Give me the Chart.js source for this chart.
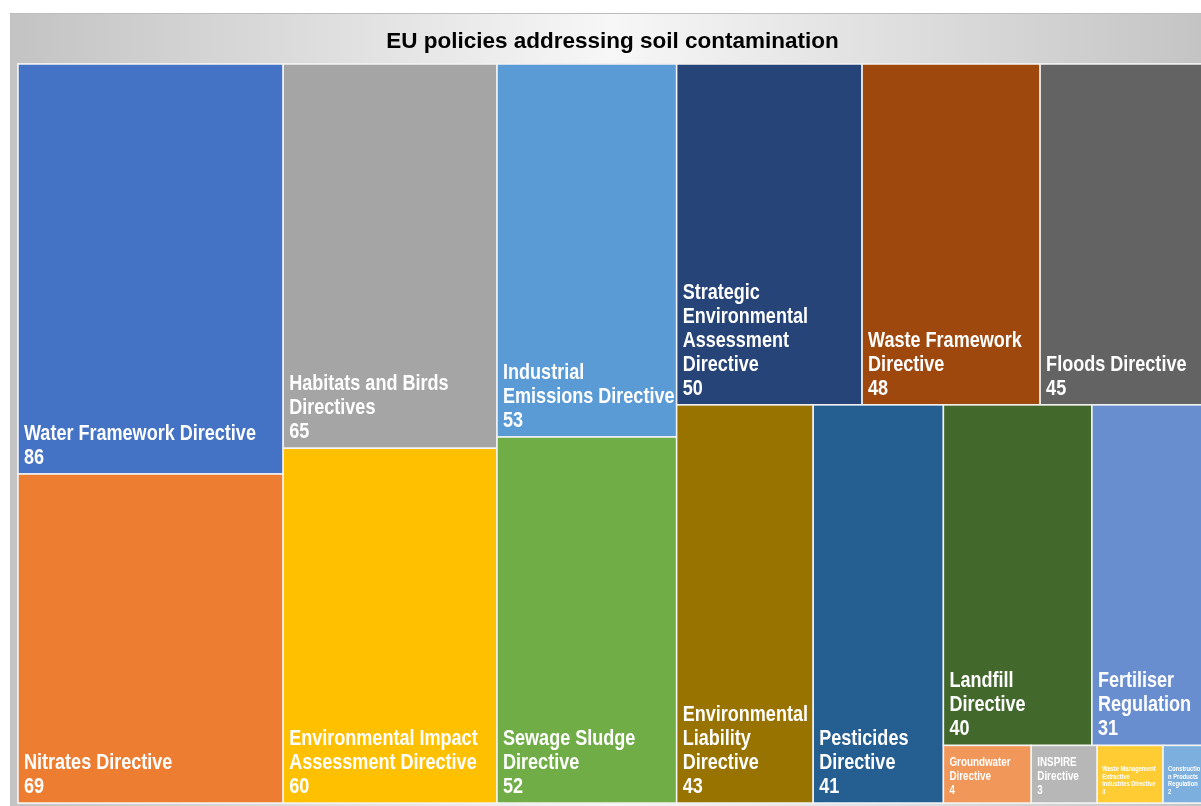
<!DOCTYPE html>
<html>
<head>
<meta charset="utf-8">
<title>EU policies addressing soil contamination</title>
<script src="https://cdn.jsdelivr.net/npm/chart.js@4.4.1/dist/chart.umd.min.js"></script>
<style>
  body { margin: 0; overflow: hidden; background: #fff; }
  #wrap { width: 1216px; height: 806px; }
</style>
</head>
<body>
<div id="wrap"><canvas id="myChart"></canvas></div>
<script>
var policies = [
    'Water Framework Directive',
    'Nitrates Directive',
    'Habitats and Birds Directives',
    'Environmental Impact Assessment Directive',
    'Industrial Emissions Directive',
    'Sewage Sludge Directive',
    'Strategic Environmental Assessment Directive',
    'Waste Framework Directive',
    'Floods Directive',
    'Environmental Liability Directive',
    'Pesticides Directive',
    'Landfill Directive',
    'Fertiliser Regulation',
    'Groundwater Directive',
    'INSPIRE Directive',
    'Waste Management Extractive Industries Directive',
    'Construction Products Regulation'
];
var mentions = [86, 69, 65, 60, 53, 52, 50, 48, 45, 43, 41, 40, 31, 4, 3, 3, 2];
var colores = [
    '#4472C4', '#ED7D31', '#A5A5A5', '#FFC000', '#5B9BD5', '#70AD47',
    '#264478', '#9E480E', '#636363', '#997300', '#255E91', '#43682B',
    '#698ED0', '#F1975A', '#B7B7B7', '#FFCD33', '#7CAFDD'
];
// how the cells are grouped in strips (direction, number of cells), same as the excel treemap
var strips = [['col', 2], ['col', 2], ['col', 2], ['row', 3], ['col', 1], ['col', 1], ['row', 2], ['row', 4]];

var total = mentions.reduce(function (a, b) { return a + b; }, 0);
// no narrow font installed, so the labels are squeezed horizontally
var labelFont = '"Liberation Sans", Arial, sans-serif';
var stretch = 0.82;

// cells in value units: x runs 0..total, y runs 0..1 (top to bottom)
function layout() {
    var cells = [];
    var x0 = 0, x1 = total, y0 = 0, y1 = 1;
    var k = 0;
    strips.forEach(function (s) {
        var vals = mentions.slice(k, k + s[1]);
        var sum = vals.reduce(function (a, b) { return a + b; }, 0);
        if (s[0] === 'col') {
            var dx = sum / (y1 - y0);
            var yy = y0;
            vals.forEach(function (v, i) {
                var dy = v / sum * (y1 - y0);
                cells.push({ i: k + i, x0: x0, x1: x0 + dx, y0: yy, y1: yy + dy });
                yy += dy;
            });
            x0 += dx;
        } else {
            var hh = sum / (x1 - x0);
            var xx = x0;
            vals.forEach(function (v, i) {
                var w = v / sum * (x1 - x0);
                cells.push({ i: k + i, x0: xx, x1: xx + w, y0: y0, y1: y0 + hh });
                xx += w;
            });
            y0 += hh;
        }
        k += s[1];
    });
    return cells;
}

function textW(ctx, t) {
    return ctx.measureText(t).width * stretch;
}

function wrapText(ctx, text, maxW, breakWords) {
    var words = text.split(' ');
    var lines = [];
    var line = '';
    for (var i = 0; i < words.length; i++) {
        var word = words[i];
        if (textW(ctx, word) > maxW) {
            if (!breakWords) return null;
            var piece = line ? line + ' ' : '';
            for (var c = 0; c < word.length; c++) {
                if (textW(ctx, piece + word[c]) > maxW && piece.trim()) {
                    lines.push(piece.trim());
                    piece = '';
                }
                piece += word[c];
            }
            line = piece;
            continue;
        }
        var test = line ? line + ' ' + word : word;
        if (textW(ctx, test) <= maxW) {
            line = test;
        } else {
            lines.push(line);
            line = word;
        }
    }
    lines.push(line);
    return lines;
}

var treemapPlugin = {
    id: 'treemap',
    beforeDraw: function (chart) {
        var ctx = chart.ctx;
        var W = chart.width, H = chart.height;
        ctx.save();
        ctx.fillStyle = '#ffffff';
        ctx.fillRect(0, 0, W, H);
        // grey frame with gradient
        var g = ctx.createLinearGradient(10, 0, 1215, 0);
        g.addColorStop(0, '#c3c3c3');
        g.addColorStop(0.5, '#f7f7f7');
        g.addColorStop(1, '#c3c3c3');
        ctx.fillStyle = g;
        ctx.fillRect(10, 13, 1205, H - 13);
        ctx.fillStyle = '#bdbdbd';
        ctx.fillRect(10, 13, 1205, 1);
        ctx.restore();
    },
    afterDatasetsDraw: function (chart) {
        var ctx = chart.ctx;
        var xs = chart.scales.x, ys = chart.scales.y;
        var area = chart.chartArea;
        ctx.save();
        ctx.strokeStyle = '#e4e4e4';
        ctx.lineWidth = 2;
        ctx.strokeRect(area.left, area.top, area.right - area.left, area.bottom - area.top);

        layout().forEach(function (c) {
            var left = xs.getPixelForValue(c.x0);
            var right = xs.getPixelForValue(c.x1);
            var top = ys.getPixelForValue(c.y0);
            var bottom = ys.getPixelForValue(c.y1);
            var w = right - left, h = bottom - top;
            ctx.fillStyle = colores[c.i];
            ctx.fillRect(left, top, w, h);
            ctx.strokeStyle = '#f4f4f4';
            ctx.lineWidth = 1.5;
            ctx.strokeRect(left, top, w, h);

            // label: shrink the font until it fits the cell
            var size, lines, lh, padB, padL;
            for (size = 22; size >= 7; size--) {
                ctx.font = 'bold ' + size + 'px ' + labelFont;
                padL = size < 10 ? 5 : 6;
                lines = wrapText(ctx, policies[c.i], w - (size < 10 ? 11 : 7), size === 7);
                if (!lines) continue;
                lines.push(String(mentions[c.i]));
                lh = size < 10 ? size * 1.1 : size + 2;
                padB = size >= 20 ? 10 : 9;
                if (lines.length * lh + padB + 4 <= h || size === 7) break;
            }
            ctx.save();
            ctx.beginPath();
            ctx.rect(left, top, w, h);
            ctx.clip();
            ctx.fillStyle = '#ffffff';
            ctx.textBaseline = 'alphabetic';
            ctx.textAlign = 'left';
            var y = bottom - padB - (lines.length - 1) * lh;
            lines.forEach(function (t, j) {
                ctx.save();
                ctx.translate(left + padL, y + j * lh);
                ctx.scale(stretch, 1);
                ctx.fillText(t, 0, 0);
                ctx.restore();
            });
            ctx.restore();
        });
        ctx.restore();
    }
};

var ctx = document.getElementById('myChart');
new Chart(ctx, {
    type: 'scatter',
    data: { datasets: [] },
    options: {
        responsive: true,
        maintainAspectRatio: false,
        animation: false,
        layout: { padding: { left: 18, right: 9, top: 14, bottom: 3 } },
        scales: {
            x: { type: 'linear', min: 0, max: total, display: false },
            y: { type: 'linear', min: 0, max: 1, reverse: true, display: false }
        },
        plugins: {
            legend: { display: false },
            tooltip: { enabled: false },
            title: {
                display: true,
                text: 'EU policies addressing soil contamination',
                color: '#000000',
                font: { family: '"Liberation Sans", Arial, sans-serif', size: 22.5, weight: 'bold' },
                padding: { top: 14, bottom: 9 }
            }
        }
    },
    plugins: [treemapPlugin]
});
</script>
</body>
</html>
